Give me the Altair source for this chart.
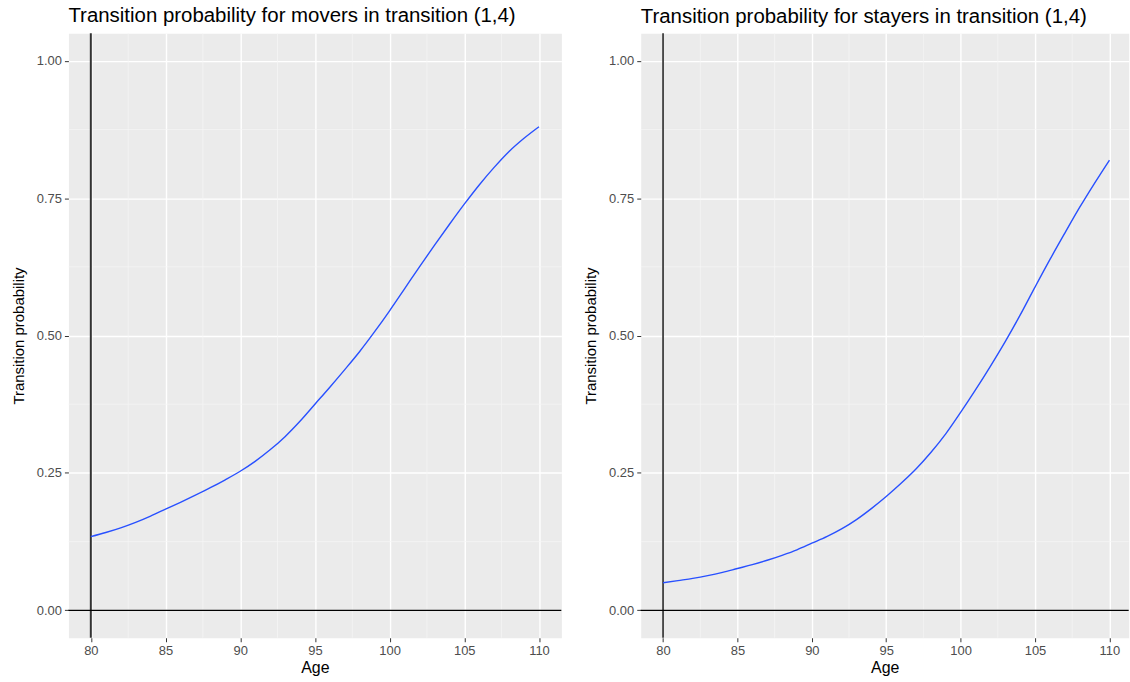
import altair as alt
import pandas as pd

ages = list(range(80, 111))
movers = [0.134, 0.1415, 0.150, 0.160, 0.1715, 0.184, 0.1965, 0.2095, 0.223, 0.2375,
          0.253, 0.271, 0.292, 0.316, 0.344, 0.375, 0.406, 0.438, 0.471, 0.507,
          0.545, 0.585, 0.625, 0.664, 0.702, 0.739, 0.774, 0.806, 0.835, 0.859,
          0.880]
stayers = [0.050, 0.054, 0.058, 0.063, 0.069, 0.076, 0.083, 0.091, 0.100, 0.110,
           0.122, 0.134, 0.148, 0.165, 0.185, 0.207, 0.231, 0.257, 0.287, 0.321,
           0.360, 0.401, 0.444, 0.489, 0.537, 0.588, 0.638, 0.686, 0.733, 0.777,
           0.819]
x_ticks = [80, 85, 90, 95, 100, 105, 110]
y_ticks = [0.0, 0.25, 0.5, 0.75, 1.0]
minor_x = [82.5, 87.5, 92.5, 97.5, 102.5, 107.5]
minor_y = [0.125, 0.375, 0.625, 0.875]
vline_x = [80]
hline_y = [0]
titles = ["Transition probability for movers in transition (1,4)",
          "Transition probability for stayers in transition (1,4)"]

FONT = "Liberation Sans"


def panel(values, title, width, xmax, vcolor, vwidth):
    xs = alt.Scale(domain=[78.5, xmax], nice=False, zero=False)
    ys = alt.Scale(domain=[-0.05, 1.05], nice=False, zero=False)
    xa = alt.Axis(values=x_ticks, format="d", title="Age")
    ya = alt.Axis(values=y_ticks, format=".2f", title="Transition probability")
    df = pd.DataFrame({"Age": ages, "p": values})
    mx = alt.Chart(pd.DataFrame({"Age": minor_x})).mark_rule(
        color="#F7F7F7", strokeWidth=0.7
    ).encode(x=alt.X("Age:Q", scale=xs, axis=xa))
    my = alt.Chart(pd.DataFrame({"p": minor_y})).mark_rule(
        color="#F7F7F7", strokeWidth=0.7
    ).encode(y=alt.Y("p:Q", scale=ys, axis=ya))
    vl = alt.Chart(pd.DataFrame({"Age": vline_x})).mark_rule(
        color=vcolor, strokeWidth=vwidth
    ).encode(x=alt.X("Age:Q", scale=xs, axis=xa))
    hl = alt.Chart(pd.DataFrame({"p": hline_y})).mark_rule(
        color="#000000", strokeWidth=1.2
    ).encode(y=alt.Y("p:Q", scale=ys, axis=ya))
    line = alt.Chart(df).mark_line(
        color="#2850FF", strokeWidth=1.4, interpolate="monotone"
    ).encode(
        x=alt.X("Age:Q", scale=xs, axis=xa),
        y=alt.Y("p:Q", scale=ys, axis=ya),
    )
    return alt.layer(mx, my, vl, hl, line).properties(
        width=width, height=607,
        title=alt.TitleParams(text=title, anchor="start", frame="group",
                              fontSize=20.5, font=FONT, fontWeight="normal",
                              color="black", offset=5.5),
    )


chart = alt.hconcat(
    panel(movers, titles[0], 495, 111.5, "#333333", 2),
    panel(stayers, titles[1], 490, 111.3, "#1A1A1A", 1.5),
    spacing=19.7,
).properties(
    padding={"left": 10.7, "top": 4, "right": 0, "bottom": 0},
    background="white",
).configure_view(
    fill="#EBEBEB", stroke="transparent"
).configure_axis(
    grid=True, gridColor="white", gridWidth=1.4,
    domain=False, tickColor="#333333", tickSize=4, tickWidth=1,
    labelColor="#4D4D4D", labelFontSize=13, labelFont=FONT, labelPadding=3,
    titleFont=FONT, titleColor="black", titleFontWeight="normal",
)
chart = chart.configure_axisX(titleFontSize=16, titlePadding=2).configure_axisY(
    titleFontSize=15, titlePadding=10
)

chart.save("out.html", embed_options={"renderer": "svg", "actions": False})
